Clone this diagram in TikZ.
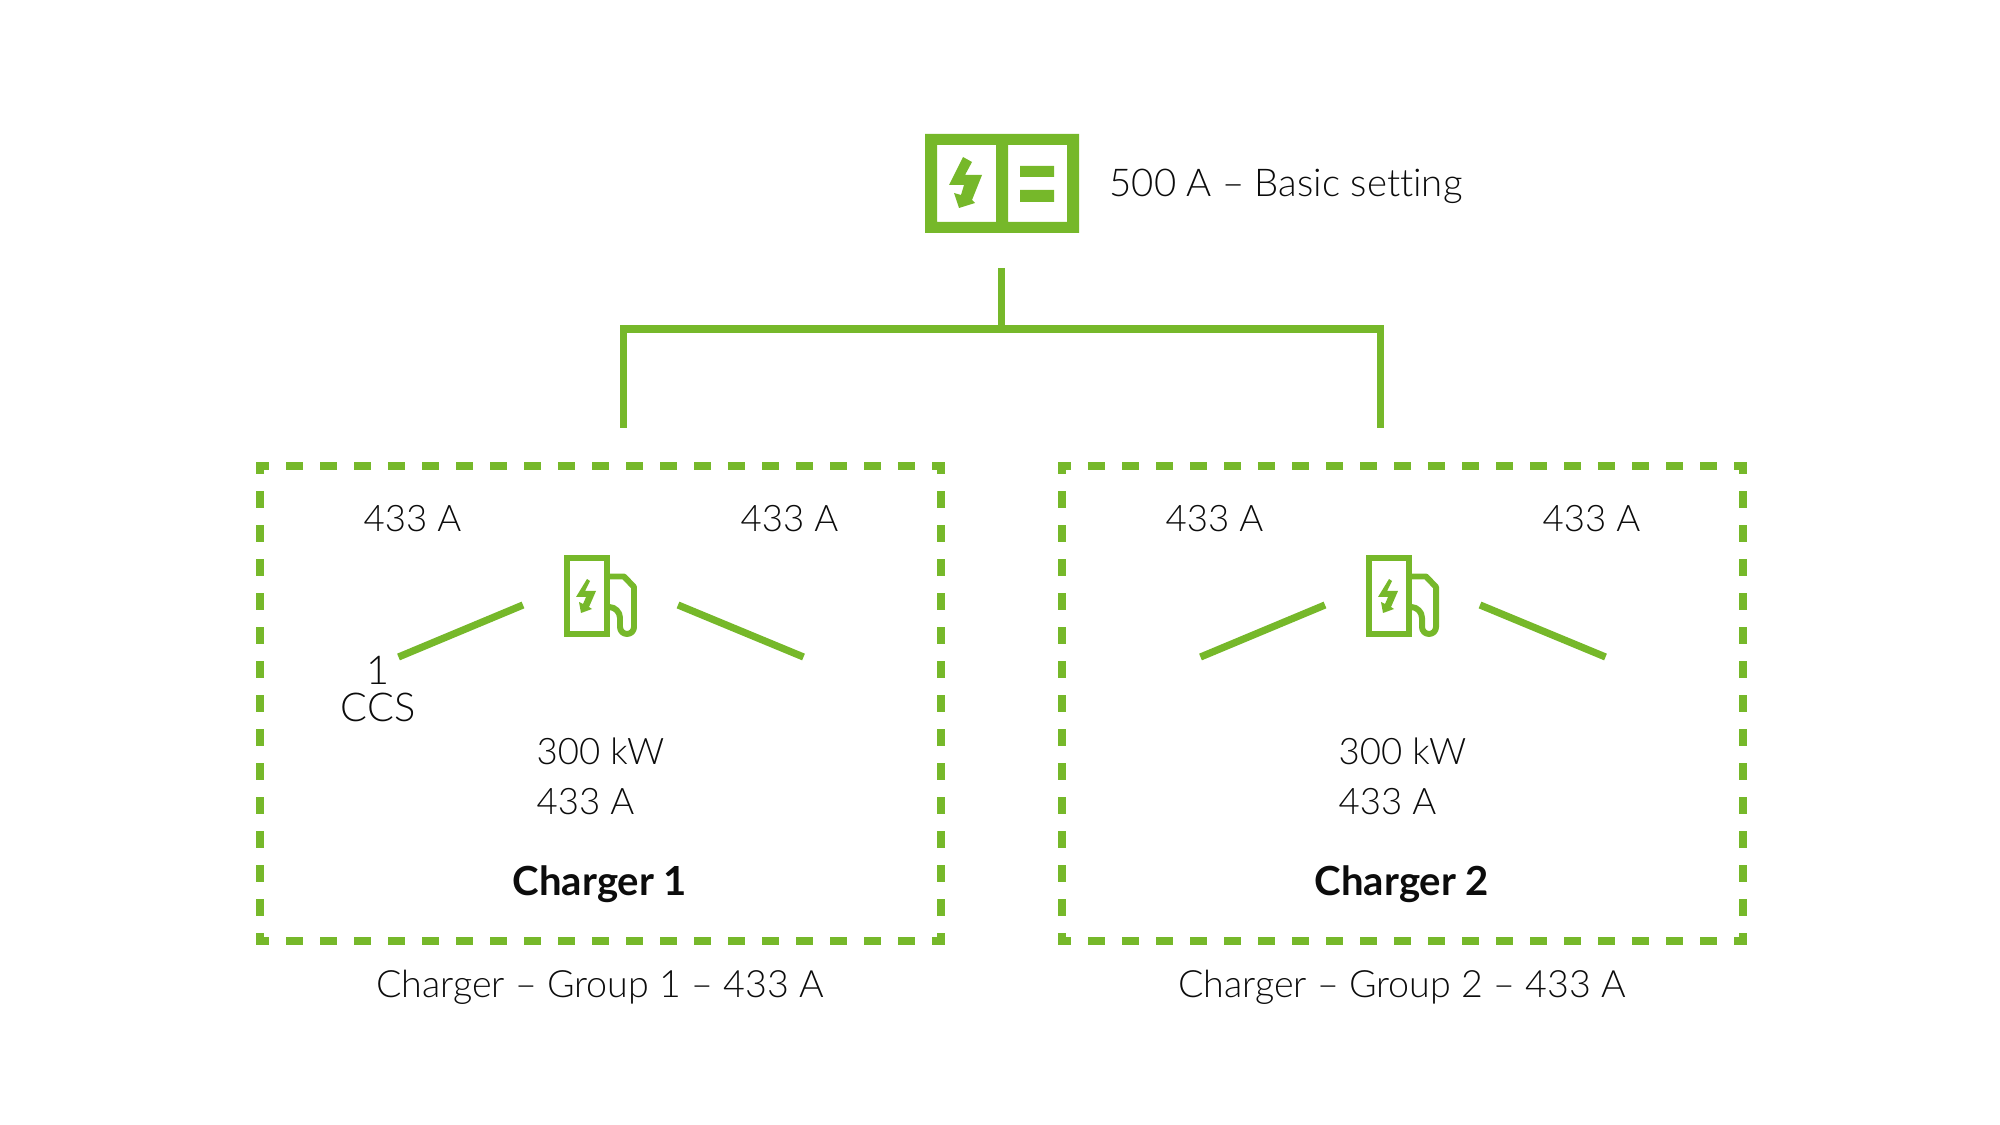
\documentclass[tikz,border=0pt]{standalone}
\usepackage{fontspec}
\setmainfont{Lato Light}[BoldFont={Lato Bold},Ligatures=NoCommon]
\usetikzlibrary{positioning,calc}
\definecolor{ChargeGreen}{RGB}{118,184,42}
\definecolor{LabelInk}{RGB}{12,12,12}
\tikzset{
  wire/.style={draw=ChargeGreen,line width=2.05pt},
  thin wire/.style={draw=ChargeGreen,line width=1.7pt},
  group/.style={minimum width=6.81cm,minimum height=4.75cm,inner sep=0pt,outer sep=0pt},
  side/.style={draw=ChargeGreen,line width=2.2pt,line cap=rect,dash pattern=on 0.093cm off 0.247cm,dash phase=0.0415cm},
  upright/.style={side,dash phase=0.0515cm},
  lab/.style={font=\fontsize{10.7}{10.6}\selectfont,text=LabelInk,inner sep=0pt},
  val/.style={lab,font=\fontsize{10.4}{10.6}\selectfont},
  head/.style={lab,font=\fontsize{11.4}{13}\selectfont\bfseries},
}
\begin{document}
\begin{tikzpicture}[x=0.01cm,y=-0.01cm]
\useasboundingbox (0,0) rectangle (2000,1125);
% supply box
\fill[ChargeGreen,even odd rule] (925,134) rectangle (1079,233)
  (937,145) rectangle (996,222) (1008,145) rectangle (1067,222);
\fill[ChargeGreen] (1020,166) rectangle (1054,177) (1020,190) rectangle (1054,202);
\fill[ChargeGreen] (963,157) -- (972,162) -- (965,175) -- (982,175) -- (972,200) -- (975,203) -- (959,208)
  -- (954,193) -- (961,195) -- (964,185) -- (949,185) -- cycle;
\node[lab,anchor=west,font=\fontsize{10.9}{13}\selectfont] (basic) at (1109,186) {500 A – Basic setting};
% feed lines
\coordinate (feed) at (1001.5,268);
\coordinate (busl) at (623.5,329);
\coordinate (busr) at (1380.5,329);
\coordinate (endl) at (623.5,428);
\coordinate (endr) at (1380.5,428);
\draw[wire] (feed) -- (feed |- busl);
\draw[wire,line join=miter] (endl) -- (busl) -- (busr) -- (endr);
% charger groups
\foreach \gx/\gn in {0/1,802/2}{
  \begin{scope}[xshift=\gx*0.01cm]
  \node[group] (box\gn) at (600.5,703.5) {};
  \draw[side] (box\gn.north west) -- (box\gn.north east);
  \draw[side] (box\gn.south west) -- (box\gn.south east);
  \draw[upright] (box\gn.north west) -- (box\gn.south west);
  \draw[upright] (box\gn.north east) -- (box\gn.south east);
  \node[val,anchor=west] (la\gn) at (363,519) {433 A};
  \node[val,anchor=west] (lb\gn) at (740,519) {433 A};
  \node[val,anchor=west] (pw\gn) at (536,751) {300 kW};
  \node[val,anchor=west] (cu\gn) at (536,802) {433 A};
  \node[head] (name\gn) at (600,884) {Charger \gn};
  \node[lab] (cap\gn) at (600,987) {Charger – Group \gn{} – 433 A};
  \coordinate (sa\gn) at (398.5,657);
  \coordinate (sb\gn) at (523,605);
  \coordinate (sc\gn) at (678,605);
  \coordinate (sd\gn) at (803.5,657);
  \draw[wire] (sa\gn) -- (sb\gn);
  \draw[wire] (sc\gn) -- (sd\gn);
  % pump
  \draw[thin wire] (566.7,558.3) rectangle (606.7,634.3);
  \draw[thin wire,line join=round] (609,576.5) -- (624,576.5) -- (634,587) -- (634,627)
    arc[start angle=0,end angle=180,radius=7] -- (620,618)
    arc[start angle=0,end angle=-90,radius=11] -- (609,607);
  \fill[ChargeGreen] (587,579) -- (590,581) -- (585,591) -- (596,591) -- (589,607) -- (592,609) -- (581,613)
    -- (579,602) -- (583,604) -- (586,597) -- (576,597) -- cycle;
  \end{scope}
}
\node[lab,align=center,font=\fontsize{11.3}{10.6}\selectfont] (plug) at (378,689) {1\\CCS};
\end{tikzpicture}
\end{document}
